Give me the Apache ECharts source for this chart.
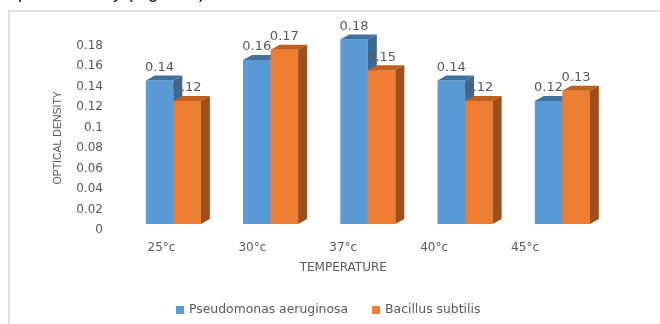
<!DOCTYPE html>
<html>
<head>
<meta charset="utf-8">
<script src="https://cdn.jsdelivr.net/npm/echarts@6/dist/echarts.min.js"></script>
<style>
  html, body { margin: 0; padding: 0; background: #fff; }
  #chart { width: 660px; height: 324px; }
</style>
</head>
<body>
<div id="chart"></div>
<script>
// Temperature groups and optical density readings
const categories = ['25°c', '30°c', '37°c', '40°c', '45°c'];
const pseudomonas = [0.14, 0.16, 0.18, 0.14, 0.12];
const bacillus = [0.12, 0.17, 0.15, 0.12, 0.13];
const seriesNames = ['Pseudomonas aeruginosa', 'Bacillus subtilis'];
const yMin = 0, yMax = 0.18, yStep = 0.02;

const TEXT_GRAY = '#595959';
const FONT = 'DejaVu Sans';

// Column faces: front, top and side shading
const blueFaces = { front: '#5B9BD5', top: '#41719C', side: '#3C6994' };
const orangeFaces = { front: '#ED7D31', top: '#C0601E', side: '#9E4E1C' };

// Oblique depth of the 3-D columns and share of a category band per column
const DX = 9, DY = -5, BAR_SHARE = 0.283;

function columnRenderer(sideSign, faces) {
  return function (params, api) {
    const idx = api.value(0);
    const v = api.value(1);
    const base = api.coord([idx, 0]);
    const top = api.coord([idx, v]);
    const w = api.size([1, 0])[0] * BAR_SHARE;
    const x0 = sideSign < 0 ? base[0] - w : base[0];
    const x1 = x0 + w;
    const yt = top[1], yb = base[1];
    return {
      type: 'group',
      children: [
        { type: 'rect', shape: { x: x0, y: yt, width: w, height: yb - yt }, style: { fill: faces.front } },
        { type: 'polygon', shape: { points: [[x0, yt], [x1, yt], [x1 + DX, yt + DY], [x0 + DX, yt + DY]] }, style: { fill: faces.top } },
        { type: 'polygon', shape: { points: [[x1, yt], [x1 + DX, yt + DY], [x1 + DX, yb + DY], [x1, yb]] }, style: { fill: faces.side } },
        {
          type: 'text', z2: 100,
          x: (x0 + x1) / 2, y: yt - 13,
          style: {
            text: String(v), fill: TEXT_GRAY,
            font: '13px "' + FONT + '"',
            align: 'center', verticalAlign: 'middle'
          }
        }
      ]
    };
  };
}

const chart = echarts.init(document.getElementById('chart'), null, { renderer: 'canvas' });

chart.setOption({
  animation: false,
  backgroundColor: '#fff',
  graphic: [
    {
      type: 'text', x: 8, y: -16, silent: true,
      style: { text: 'optical density (Figure 3).', font: '18px "Liberation Sans"', fill: '#111' }
    },
    {
      type: 'rect', silent: true, z: -10,
      shape: { x: 9, y: 11, width: 800, height: 400 },
      style: { fill: 'none', stroke: '#d9d9d9', lineWidth: 1.5 }
    }
  ],
  legend: {
    data: seriesNames,
    left: 171, top: 299,
    icon: 'rect', itemWidth: 8, itemHeight: 8, itemGap: 24,
    textStyle: { fontFamily: FONT, fontSize: 12.4, color: TEXT_GRAY }
  },
  grid: [
    // front plane of the columns
    { left: 124.7, top: 39.5, width: 486.25, height: 184.5 },
    // plane carrying the axis labels
    { left: 116, top: 45.7, width: 454.5, height: 184.3 }
  ],
  xAxis: [
    {
      type: 'category', gridIndex: 0, data: categories,
      show: false
    },
    {
      type: 'category', gridIndex: 1, data: categories,
      axisLine: { show: false }, axisTick: { show: false },
      axisLabel: { fontFamily: FONT, fontSize: 12, color: TEXT_GRAY, margin: 12 },
      name: 'TEMPERATURE', nameLocation: 'middle', nameGap: 32,
      nameTextStyle: { fontFamily: FONT, fontSize: 12, color: TEXT_GRAY }
    }
  ],
  yAxis: [
    { type: 'value', gridIndex: 0, min: yMin, max: yMax, interval: yStep, show: false },
    {
      type: 'value', gridIndex: 1, min: yMin, max: yMax, interval: yStep,
      axisLine: { show: false }, axisTick: { show: false }, splitLine: { show: false },
      axisLabel: {
        fontFamily: FONT, fontSize: 12, color: TEXT_GRAY, margin: 13,
        formatter: v => String(+v.toFixed(2))
      },
      name: 'OPTICAL DENSITY', nameLocation: 'middle', nameGap: 52,
      nameTextStyle: { fontFamily: 'Liberation Sans', fontSize: 10.5, color: TEXT_GRAY }
    }
  ],
  series: [
    {
      name: seriesNames[0], type: 'custom', xAxisIndex: 0, yAxisIndex: 0,
      itemStyle: { color: blueFaces.front },
      renderItem: columnRenderer(-1, blueFaces),
      data: pseudomonas.map((v, i) => [i, v])
    },
    {
      name: seriesNames[1], type: 'custom', xAxisIndex: 0, yAxisIndex: 0,
      itemStyle: { color: orangeFaces.front },
      renderItem: columnRenderer(1, orangeFaces),
      data: bacillus.map((v, i) => [i, v])
    }
  ]
});
</script>
</body>
</html>
